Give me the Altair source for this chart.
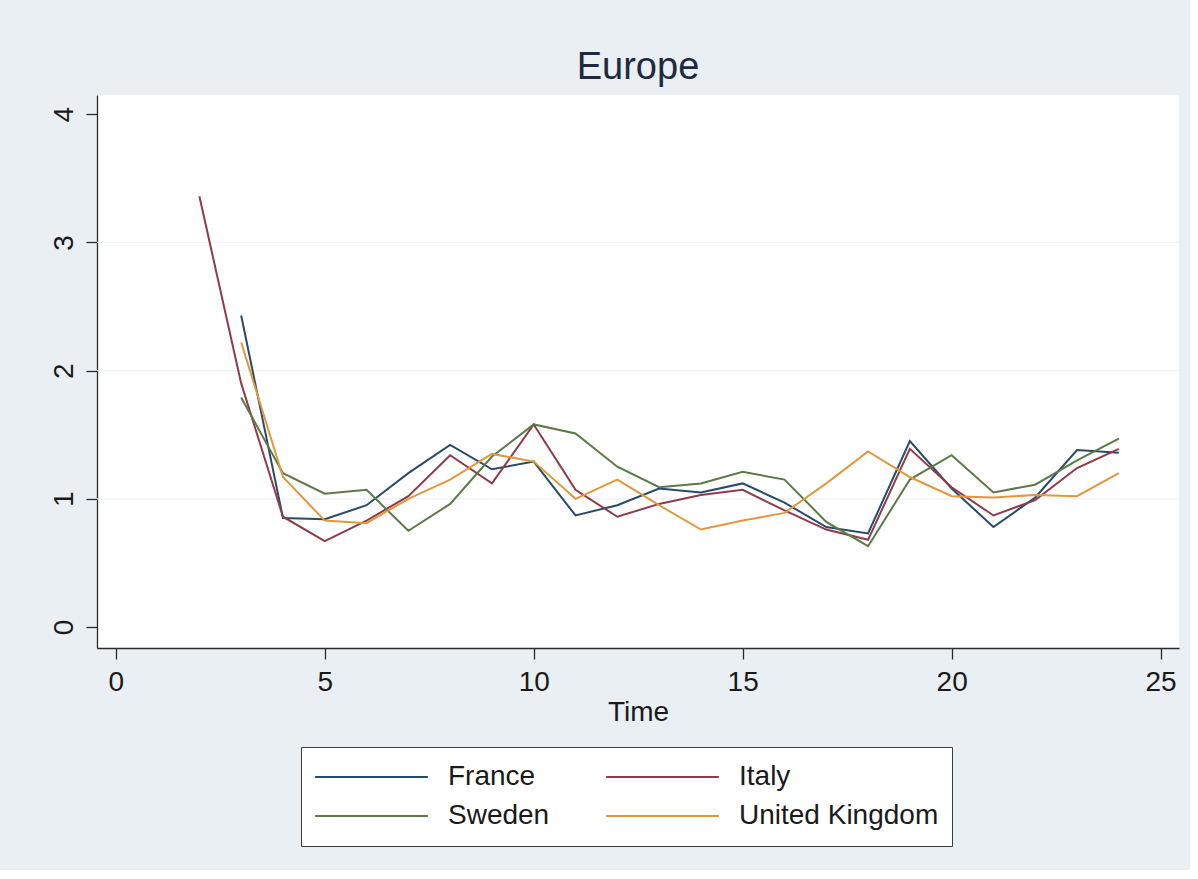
import altair as alt
import pandas as pd

# ---- data ----
time = list(range(2, 25))
countries = ["France", "Italy", "Sweden", "United Kingdom"]
france = [None, 2.43, 0.85, 0.84, 0.95, 1.20, 1.42, 1.23, 1.29, 0.87, 0.95, 1.08,
          1.05, 1.12, 0.97, 0.78, 0.73, 1.45, 1.08, 0.78, 1.01, 1.38, 1.36]
italy = [3.36, 1.90, 0.86, 0.67, 0.83, 1.02, 1.34, 1.12, 1.58, 1.07, 0.86, 0.96,
         1.03, 1.07, 0.91, 0.76, 0.68, 1.39, 1.09, 0.87, 0.99, 1.24, 1.39]
sweden = [None, 1.79, 1.20, 1.04, 1.07, 0.75, 0.96, 1.33, 1.58, 1.51, 1.25, 1.09,
          1.12, 1.21, 1.15, 0.82, 0.63, 1.15, 1.34, 1.05, 1.11, 1.30, 1.47]
uk = [None, 2.22, 1.17, 0.83, 0.81, 1.00, 1.15, 1.35, 1.29, 1.00, 1.15, 0.95,
      0.76, 0.83, 0.89, 1.12, 1.37, 1.17, 1.02, 1.01, 1.03, 1.02, 1.20]
colors = ["#294a68", "#8f3b4a", "#5b7a45", "#e0983f"]
x_ticks = [0, 5, 10, 15, 20, 25]
y_ticks = [0, 1, 2, 3, 4]
grid_values = [1, 2, 3]

rows = []
for name, series in zip(countries, [france, italy, sweden, uk]):
    for t, v in zip(time, series):
        if v is not None:
            rows.append({"Country": name, "Time": t, "Value": v})
df = pd.DataFrame(rows)

FONT = "Liberation Sans"
xscale = alt.Scale(domain=[-0.45, 25.44], nice=False, zero=False)
yscale = alt.Scale(domain=[-0.164, 4.15], nice=False, zero=False)

yaxis = alt.Axis(values=y_ticks, title=None, grid=False,
                 labelFontSize=28, labelFont=FONT, labelColor="#1a1a1a",
                 labelAngle=270, labelAlign="center", labelBaseline="alphabetic",
                 labelPadding=14, tickSize=11, tickWidth=1.3, tickColor="#2b2b2b",
                 domainColor="#2b2b2b", domainWidth=1.3)

grid = alt.Chart(pd.DataFrame({"Value": grid_values})).mark_rule(
    color="#edf2f4", strokeWidth=1.3
).encode(y=alt.Y("Value:Q", scale=yscale, axis=yaxis))

lines = alt.Chart(df).mark_line(strokeWidth=2).encode(
    x=alt.X("Time:Q", scale=xscale,
            axis=alt.Axis(values=x_ticks, title="Time", grid=False,
                          labelFontSize=28, labelFont=FONT, labelColor="#1a1a1a",
                          labelPadding=9, tickSize=11, tickWidth=1.3, tickColor="#2b2b2b",
                          domainColor="#2b2b2b", domainWidth=1.3,
                          titleFontSize=28, titleFont=FONT, titleFontWeight="normal",
                          titleColor="#1a1a1a", titleBaseline="alphabetic", titleY=72)),
    y=alt.Y("Value:Q", scale=yscale, axis=yaxis),
    color=alt.Color("Country:N", scale=alt.Scale(domain=countries, range=colors),
                    legend=alt.Legend(orient="none", legendX=204, legendY=652,
                                      columns=2, direction="horizontal", title=None,
                                      symbolType="stroke",
                                      symbolSize=12700, symbolStrokeWidth=2,
                                      labelFontSize=28, labelFont=FONT, labelColor="#1a1a1a",
                                      labelOffset=19, labelLimit=400,
                                      columnPadding=55, rowPadding=5, clipHeight=34,
                                      padding=13, fillColor="white", strokeColor="#3b3b3b")),
)

chart = alt.layer(grid, lines).properties(
    width=1082, height=553,
    autosize="none",
    padding={"left": 97, "top": 95, "right": 11, "bottom": 222},
    background="#e9eff2",
    title=alt.TitleParams("Europe", fontSize=38, font=FONT, fontWeight="normal",
                          color="#1f2a40", anchor="middle", baseline="alphabetic",
                          offset=15, dy=37),
).configure_view(fill="white", strokeWidth=0)

chart.save("out.html", embed_options={"renderer": "svg", "actions": False})
